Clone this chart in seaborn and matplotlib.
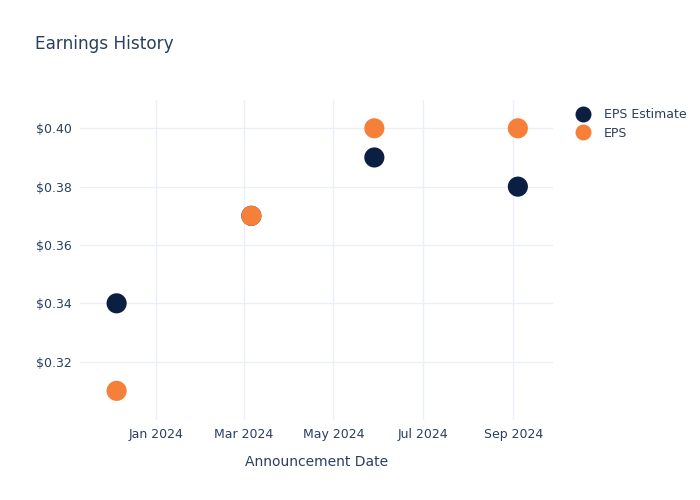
import pandas as pd
import numpy as np
import matplotlib
matplotlib.use("Agg")
import matplotlib.pyplot as plt
import matplotlib.dates as mdates
from matplotlib.ticker import FuncFormatter
from matplotlib.lines import Line2D
import seaborn as sns

dates = ["2023-12-05", "2024-03-06", "2024-05-29", "2024-09-04"]
eps_estimate = [0.34, 0.37, 0.39, 0.38]
eps_actual = [0.31, 0.37, 0.40, 0.40]
series_names = ["EPS Estimate", "EPS"]
colors = ["#0b1f42", "#f6803a"]

df = pd.DataFrame({
    "date": pd.to_datetime(dates * 2),
    "value": eps_estimate + eps_actual,
    "series": [series_names[0]] * len(dates) + [series_names[1]] * len(dates),
})

sns.set_theme(style="white")
plt.rcParams["font.family"] = ["DejaVu Sans"]
text_color = "#2a3f5f"

fig = plt.figure(figsize=(7, 5), dpi=100)
ax = fig.add_axes([80 / 700, 80 / 500, (553 - 80) / 700, (420 - 100) / 500])

sns.scatterplot(data=df, x="date", y="value", hue="series",
                palette=dict(zip(series_names, colors)), s=210,
                edgecolor="none", ax=ax, legend=False, zorder=3)

ax.set_xlim(pd.Timestamp("2023-11-10"), pd.Timestamp("2024-09-28"))
ax.set_ylim(0.3000, 0.4097)
ax.set_yticks([0.32, 0.34, 0.36, 0.38, 0.40])
ax.yaxis.set_major_formatter(FuncFormatter(lambda v, p: f"${v:.2f}"))
ax.xaxis.set_major_locator(mdates.MonthLocator(bymonth=[1, 3, 5, 7, 9]))
ax.xaxis.set_major_formatter(mdates.DateFormatter("%b %Y"))

ax.grid(True, color="#ebf0f8", linewidth=1)
ax.set_axisbelow(True)
for s in ax.spines.values():
    s.set_visible(False)
ax.tick_params(axis="both", length=0, labelsize=9, colors=text_color, pad=6)
ax.set_xlabel("Announcement Date", fontsize=10, color=text_color, labelpad=10)
ax.set_ylabel("")

fig.text(35 / 700, 1 - 44 / 500, "Earnings History", fontsize=12.2,
         color=text_color, va="center", ha="left")

handles = [Line2D([0], [0], marker="o", linestyle="", markersize=11.5,
                  markerfacecolor=c, markeredgecolor="none") for c in colors]
leg = fig.legend(handles, series_names, loc="upper left",
                 bbox_to_anchor=(570 / 700, 1 - 103 / 500), frameon=False,
                 fontsize=9, handletextpad=1.1, labelspacing=0.45,
                 borderaxespad=0, handlelength=1.2)
for t in leg.get_texts():
    t.set_color(text_color)

fig.savefig("out.png", dpi=100)
